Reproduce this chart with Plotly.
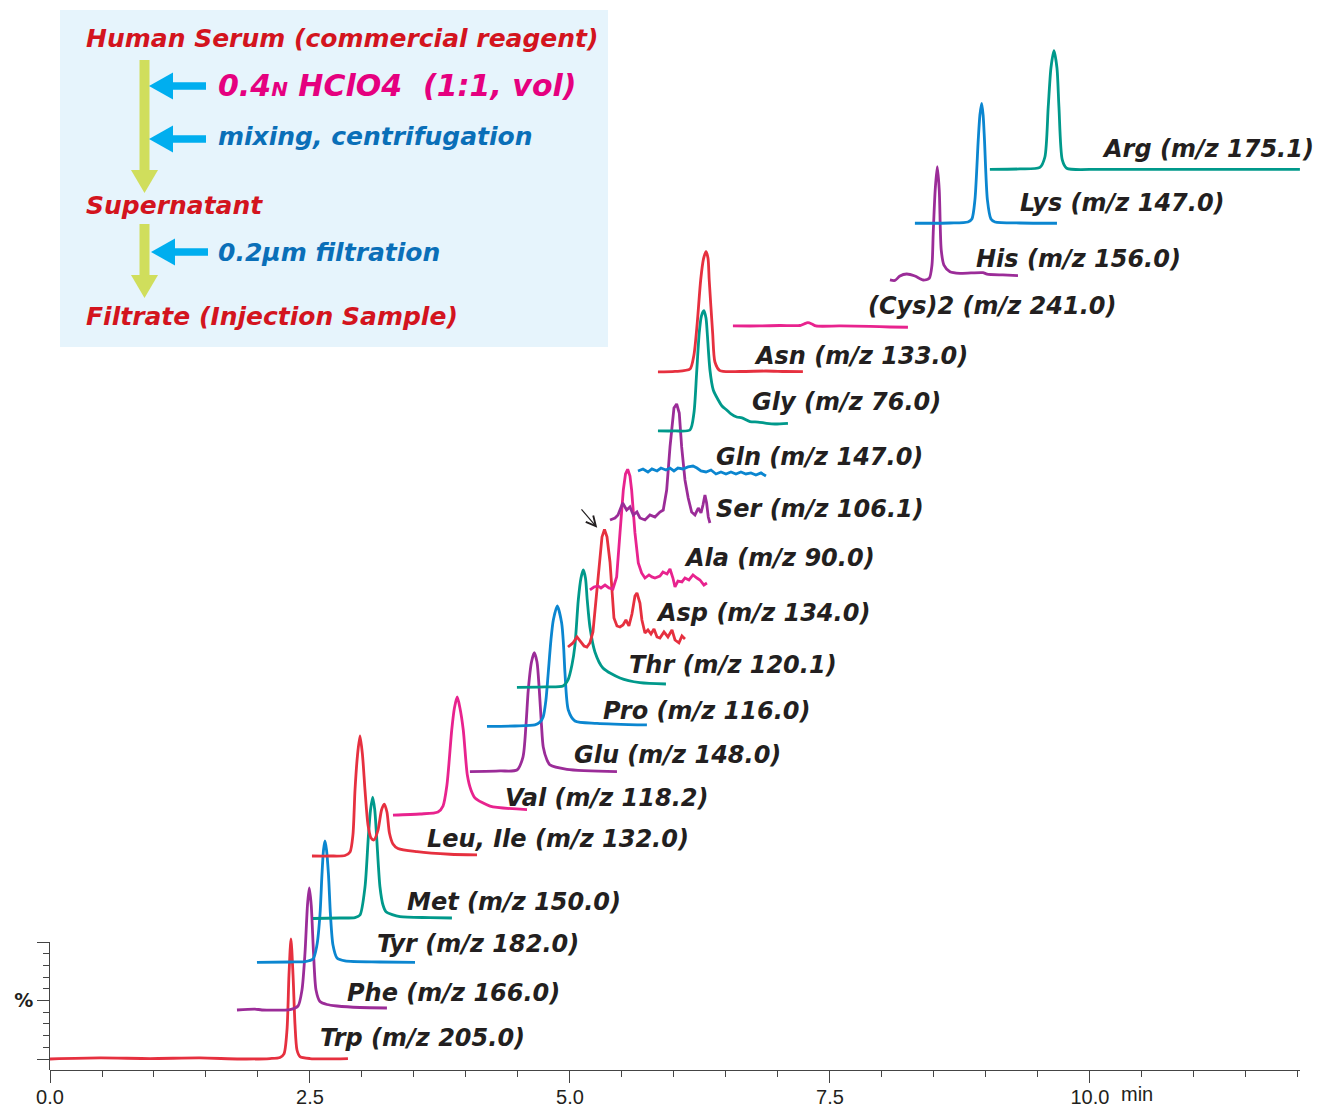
import plotly.graph_objects as go

# ---------------- data (retention time in min, response in %) ----------------
TRP_T = [0.000, 0.481, 0.962, 1.442, 1.827, 2.115, 2.212, 2.250, 2.279, 2.298, 2.317, 2.337, 2.356, 2.375, 2.404, 2.500, 2.865]
TRP_Y = [0.0, 0.9, 0.4, 0.9, 0.0, 0.4, 1.3, 4.3, 24.8, 71.8, 102.6, 71.8, 29.1, 7.7, 2.1, 0.4, 0.4]

PHE_T = [1.798, 1.971, 2.038, 2.308, 2.385, 2.423, 2.452, 2.476, 2.493, 2.512, 2.534, 2.558, 2.596, 2.663, 2.760, 2.981, 3.240]
PHE_Y = [41.9, 42.7, 41.9, 42.3, 45.3, 59.0, 90.6, 131.6, 146.2, 131.6, 90.6, 59.0, 49.1, 46.6, 45.3, 44.0, 43.6]

TYR_T = [1.990, 2.308, 2.452, 2.529, 2.567, 2.596, 2.615, 2.630, 2.644, 2.659, 2.678, 2.697, 2.721, 2.760, 2.837, 3.173, 3.510]
TYR_Y = [82.5, 82.9, 83.3, 85.5, 97.4, 123.1, 157.3, 178.6, 186.3, 178.6, 157.3, 123.1, 97.4, 86.3, 83.8, 82.9, 82.5]

MET_T = [2.529, 2.788, 2.933, 2.981, 3.029, 3.061, 3.082, 3.103, 3.123, 3.141, 3.173, 3.202, 3.231, 3.365, 3.654, 3.865]
MET_Y = [120.1, 120.5, 120.9, 123.1, 147.0, 189.7, 212.8, 223.9, 212.8, 189.7, 147.0, 131.6, 125.9, 121.6, 120.9, 120.5]

LEU_T = [2.519, 2.692, 2.837, 2.885, 2.913, 2.933, 2.957, 2.981, 3.005, 3.029, 3.058, 3.087, 3.115, 3.154,
         3.188, 3.214, 3.240, 3.264, 3.298, 3.346, 3.529, 3.846, 4.106]
LEU_Y = [173.5, 173.5, 173.9, 176.9, 191.5, 229.9, 259.8, 276.1, 259.8, 229.9, 200.0, 188.9, 187.2, 195.7,
         212.8, 217.9, 211.1, 193.2, 183.8, 179.9, 177.2, 175.0, 174.4]

VAL_T = [3.298, 3.558, 3.731, 3.779, 3.817, 3.863, 3.889, 3.916, 3.942, 3.974, 4.013, 4.048, 4.087, 4.231, 4.587]
VAL_Y = [208.5, 209.4, 211.1, 216.2, 234.2, 281.2, 300.0, 309.4, 300.0, 281.2, 242.7, 229.9, 223.1, 216.2, 213.2]

GLU_T = [4.038, 4.327, 4.490, 4.548, 4.577, 4.599, 4.630, 4.657, 4.683, 4.705, 4.726, 4.743, 4.779, 4.808, 4.971, 5.452]
GLU_Y = [245.6, 246.2, 247.0, 258.1, 285.5, 315.4, 339.3, 347.3, 339.3, 315.4, 285.5, 266.7, 255.6, 251.3, 247.6, 245.6]

PRO_T = [4.202, 4.471, 4.663, 4.712, 4.743, 4.769, 4.791, 4.817, 4.840, 4.878, 4.920, 4.938, 4.952, 4.984, 5.048, 5.260, 5.740]
PRO_Y = [284.2, 284.6, 285.5, 288.0, 292.6, 306.8, 329.9, 358.1, 375.2, 387.2, 372.6, 353.8, 329.9, 298.3, 288.9, 286.9, 285.5]

THR_T = [4.490, 4.760, 4.933, 4.981, 5.019, 5.048, 5.080, 5.106, 5.128, 5.149, 5.166, 5.192, 5.240, 5.317, 5.481, 5.673, 5.923]
THR_Y = [317.7, 318.0, 318.8, 324.0, 336.8, 353.8, 392.3, 411.1, 418.0, 411.1, 392.3, 369.2, 347.9, 334.2, 325.6, 321.6, 320.5]

ASP_T = [4.981, 5.029, 5.067, 5.096, 5.135, 5.163, 5.192, 5.221, 5.250, 5.279, 5.308, 5.332, 5.356, 5.385,
         5.404, 5.423, 5.452, 5.481, 5.510, 5.538, 5.567, 5.596, 5.625, 5.644, 5.673, 5.692, 5.721, 5.750,
         5.779, 5.808, 5.837, 5.865, 5.904, 5.942, 5.981, 6.010, 6.048, 6.077, 6.106]
ASP_Y = [352.1, 355.6, 360.7, 357.3, 353.0, 352.1, 355.6, 365.0, 392.3, 424.8, 446.2, 452.6, 446.2, 424.8,
         396.6, 376.9, 370.1, 369.2, 370.9, 375.2, 370.1, 380.3, 395.7, 398.3, 389.7, 375.2, 364.1, 366.7,
         363.2, 367.5, 360.7, 359.8, 365.0, 360.7, 366.7, 358.1, 355.6, 361.5, 359.0]

ALA_T = [5.192, 5.231, 5.269, 5.298, 5.337, 5.375, 5.413, 5.449, 5.481, 5.513, 5.534, 5.555, 5.577, 5.593,
         5.625, 5.657, 5.689, 5.721, 5.760, 5.788, 5.817, 5.865, 5.894, 5.933, 5.962, 5.990, 6.010, 6.038,
         6.077, 6.106, 6.144, 6.183, 6.221, 6.250, 6.288, 6.317]
ALA_Y = [400.9, 403.4, 404.3, 402.6, 405.1, 402.6, 401.7, 412.0, 449.6, 486.3, 500.0, 504.0, 498.3, 486.3,
         449.6, 423.9, 415.4, 411.1, 413.7, 412.0, 411.1, 412.8, 416.2, 414.5, 418.8, 411.1, 403.4, 408.5,
         407.7, 411.1, 409.4, 413.7, 411.1, 409.4, 405.1, 406.8]

SER_T = [5.385, 5.433, 5.462, 5.507, 5.545, 5.577, 5.609, 5.644, 5.673, 5.721, 5.769, 5.817, 5.865, 5.897,
         5.930, 5.962, 6.000, 6.026, 6.051, 6.074, 6.106, 6.137, 6.170, 6.202, 6.234, 6.260, 6.279, 6.298,
         6.314, 6.330, 6.346]
SER_Y = [460.7, 462.4, 465.0, 475.2, 469.2, 471.8, 465.0, 467.5, 462.4, 460.7, 465.0, 463.2, 467.5, 469.2,
         486.3, 523.1, 556.4, 559.8, 552.1, 523.1, 494.9, 479.5, 467.5, 465.0, 470.9, 466.7, 473.5, 482.1,
         475.2, 463.2, 458.1]

GLN_T = [5.654, 5.702, 5.750, 5.788, 5.837, 5.875, 5.923, 5.962, 6.000, 6.038, 6.087, 6.135, 6.183, 6.221,
         6.260, 6.308, 6.356, 6.404, 6.452, 6.500, 6.548, 6.596, 6.644, 6.692, 6.740, 6.788, 6.837, 6.885]
GLN_Y = [502.6, 504.3, 501.7, 504.3, 502.6, 505.1, 503.4, 505.1, 502.6, 505.1, 504.3, 506.0, 506.8, 505.1,
         502.6, 501.7, 503.4, 500.0, 501.7, 500.0, 501.7, 500.0, 501.7, 500.0, 500.9, 499.1, 500.9, 498.3]

GLY_T = [5.846, 6.010, 6.154, 6.192, 6.218, 6.243, 6.264, 6.288, 6.308, 6.320, 6.346, 6.378, 6.426, 6.462,
         6.507, 6.548, 6.603, 6.654, 6.731, 6.808, 6.891, 6.971, 7.096]
GLY_Y = [536.8, 536.8, 537.6, 552.1, 586.3, 620.5, 635.0, 639.6, 633.3, 620.5, 588.9, 571.8, 563.2, 558.1,
         554.7, 551.3, 548.7, 547.9, 544.7, 544.4, 543.3, 542.7, 543.3]

ASN_T = [5.846, 6.010, 6.154, 6.192, 6.224, 6.257, 6.284, 6.308, 6.327, 6.339, 6.372, 6.394, 6.442, 6.635, 6.885, 7.067, 7.240]
ASN_Y = [587.2, 587.6, 589.7, 601.7, 629.1, 665.8, 683.8, 690.0, 684.6, 665.8, 620.5, 595.7, 588.3, 587.6, 588.0, 587.6, 587.4]

CYS_T = [6.567, 6.827, 7.019, 7.212, 7.250, 7.288, 7.327, 7.365, 7.596, 7.885, 8.077, 8.250]
CYS_Y = [626.5, 626.5, 626.9, 626.9, 628.2, 629.3, 628.2, 626.5, 626.5, 626.1, 625.6, 625.4]

HIS_T = [8.077, 8.125, 8.173, 8.238, 8.317, 8.397, 8.455, 8.481, 8.493, 8.512, 8.532, 8.551, 8.570, 8.596,
         8.654, 8.750, 8.971, 9.010, 9.163, 9.308]
HIS_Y = [665.8, 665.4, 669.2, 670.9, 669.2, 665.8, 667.3, 678.6, 706.0, 742.7, 762.6, 742.7, 691.5, 678.6,
         672.9, 671.5, 672.1, 670.9, 670.1, 669.5]

LYS_T = [8.317, 8.654, 8.827, 8.865, 8.894, 8.926, 8.942, 8.959, 8.973, 8.986, 9.014, 9.048, 9.087, 9.327, 9.683]
LYS_Y = [714.3, 714.5, 715.4, 717.9, 734.2, 785.5, 806.8, 816.8, 806.8, 785.5, 734.2, 717.9, 715.4, 714.5, 714.3]

ARG_T = [9.038, 9.327, 9.519, 9.567, 9.599, 9.625, 9.654, 9.683, 9.702, 9.734, 9.776, 10.096, 11.058, 12.019]
ARG_Y = [760.4, 760.7, 762.0, 770.9, 813.7, 847.0, 861.8, 847.0, 813.7, 768.4, 761.3, 760.4, 760.4, 760.4]

# label text and label anchor (min, %)
LABELS = ["Trp (m/z 205.0)", "Phe (m/z 166.0)", "Tyr (m/z 182.0)", "Met (m/z 150.0)",
          "Leu, Ile (m/z 132.0)", "Val (m/z 118.2)", "Glu (m/z 148.0)", "Pro (m/z 116.0)",
          "Thr (m/z 120.1)", "Asp (m/z 134.0)", "Ala (m/z 90.0)", "Ser (m/z 106.1)",
          "Gln (m/z 147.0)", "Gly (m/z 76.0)", "Asn (m/z 133.0)", "(Cys)2 (m/z 241.0)",
          "His (m/z 156.0)", "Lys (m/z 147.0)", "Arg (m/z 175.1)"]
LABEL_T = [2.577, 2.837, 3.125, 3.413, 3.606, 4.356, 5.019, 5.298, 5.548, 5.808, 6.077, 6.385,
           6.385, 6.731, 6.750, 7.846, 8.885, 9.308, 10.095]
LABEL_Y = [17.9, 56.4, 98.3, 134.2, 188.0, 223.1, 259.8, 297.4, 336.8, 381.2, 428.2, 470.1,
           514.5, 561.5, 600.9, 643.6, 683.8, 731.6, 777.8]

X_TICKS = [0.0, 2.5, 5.0, 7.5, 10.0]
X_TICK_TEXT = ["0.0", "2.5", "5.0", "7.5", "10.0"]

# ---------------- styles ----------------
RED = "#E6303F"
PURPLE = "#9B2C98"
BLUE = "#0B86D0"
TEAL = "#00998B"
MAGENTA = "#E8238E"

SERIES = [
    (TRP_T, TRP_Y, RED, "spline"), (PHE_T, PHE_Y, PURPLE, "spline"),
    (TYR_T, TYR_Y, BLUE, "spline"), (MET_T, MET_Y, TEAL, "spline"),
    (LEU_T, LEU_Y, RED, "spline"), (VAL_T, VAL_Y, MAGENTA, "spline"),
    (GLU_T, GLU_Y, PURPLE, "spline"), (PRO_T, PRO_Y, BLUE, "spline"),
    (THR_T, THR_Y, TEAL, "spline"), (ASP_T, ASP_Y, RED, "linear"),
    (ALA_T, ALA_Y, MAGENTA, "linear"), (SER_T, SER_Y, PURPLE, "linear"),
    (GLN_T, GLN_Y, BLUE, "linear"), (GLY_T, GLY_Y, TEAL, "spline"),
    (ASN_T, ASN_Y, RED, "spline"), (CYS_T, CYS_Y, MAGENTA, "spline"),
    (HIS_T, HIS_Y, PURPLE, "spline"), (LYS_T, LYS_Y, BLUE, "spline"),
    (ARG_T, ARG_Y, TEAL, "spline"),
]

# reference picture geometry (pixels); everything is laid out as fractions of it,
# and the figure is sized to the browser window after load
W, H = 1319, 1108
AX_L, AX_R, AX_T, AX_B = 50, 1300, 20, 1070   # plot area of the chromatograms
PCT_TOP = 942                                  # top of the short % axis


def fx(x):
    return x / W


def fy(y):
    return 1 - y / H


fig = go.Figure()
for t, y, col, shape in SERIES:
    fig.add_trace(go.Scatter(x=t, y=y, mode="lines",
                             line=dict(color=col, width=2.8, shape=shape, smoothing=0.7),
                             showlegend=False, hoverinfo="skip"))
# dummy trace for the short % axis
fig.add_trace(go.Scatter(x=[None], y=[None], yaxis="y2", showlegend=False, hoverinfo="skip"))

LABEL_FONT = dict(family="DejaVu Sans", size=24, color="#231F20", weight="bold", style="italic")
for txt, t, y in zip(LABELS, LABEL_T, LABEL_Y):
    fig.add_annotation(x=t, y=y, text=txt, showarrow=False, xanchor="left", yanchor="middle",
                       font=LABEL_FONT)

# arrow pointing at the Asp peak
fig.add_annotation(x=5.262, y=454.0, ax=-17, ay=-20, text="", showarrow=True,
                   arrowhead=5, arrowsize=1.6, arrowwidth=1.2, arrowcolor="#231F20")

# ---------------- inset box (sample preparation) ----------------
shapes = []
shapes.append(dict(type="rect", xref="paper", yref="paper", x0=fx(60), x1=fx(608), y0=fy(347), y1=fy(10),
                   fillcolor="#E6F4FC", line=dict(width=0), layer="below"))
YG = "#D0DE5C"
CY = "#00AEEF"
for top, head in [(60, 170), (224, 275)]:
    shapes.append(dict(type="rect", xref="paper", yref="paper", x0=fx(139.5), x1=fx(149.5),
                       y0=fy(head + 2), y1=fy(top), fillcolor=YG, line=dict(width=0)))
    shapes.append(dict(type="path", xref="paper", yref="paper",
                       path=f"M {fx(131)} {fy(head)} L {fx(158)} {fy(head)} L {fx(144.5)} {fy(head + 23)} Z",
                       fillcolor=YG, line=dict(width=0)))
for yc, tip in [(86, 149), (139, 149), (252, 151)]:
    shapes.append(dict(type="rect", xref="paper", yref="paper", x0=fx(tip + 22), x1=fx(tip + 57),
                       y0=fy(yc + 3.8), y1=fy(yc - 3.8), fillcolor=CY, line=dict(width=0)))
    shapes.append(dict(type="path", xref="paper", yref="paper",
                       path=f"M {fx(tip)} {fy(yc)} L {fx(tip + 24)} {fy(yc - 13.5)} L {fx(tip + 24)} {fy(yc + 13.5)} Z",
                       fillcolor=CY, line=dict(width=0)))

BOX_RED = "#D3141E"
BOX_BLUE = "#0A6FB8"
BOX_MAG = "#E5007F"
box_texts = [
    ("Human Serum (commercial reagent)", 84, 38, BOX_RED, 25),
    ("0.4<span style='font-size:20px'>N</span> HClO4&nbsp;&nbsp;(1:1, vol)", 216, 86, BOX_MAG, 30),
    ("mixing, centrifugation", 216, 137, BOX_BLUE, 25),
    ("Supernatant", 84, 206, BOX_RED, 25),
    ("0.2µm filtration", 216, 252, BOX_BLUE, 25),
    ("Filtrate (Injection Sample)", 84, 316, BOX_RED, 25),
]
for txt, x, y, col, size in box_texts:
    fig.add_annotation(xref="paper", yref="paper", x=fx(x), y=fy(y), text=txt, showarrow=False,
                       xanchor="left", yanchor="middle",
                       font=dict(family="DejaVu Sans", size=size, color=col, weight="bold", style="italic"))

# "min" unit label
fig.add_annotation(xref="paper", yref="paper", x=fx(1119), y=fy(1094), text="min", showarrow=False,
                   xanchor="left", yanchor="middle",
                   font=dict(family="Liberation Sans", size=20, color="#231F20"))

AXC = "#444444"
fig.update_layout(
    # start small (page never overflows), then fill the window after load
    width=1100, height=900, margin=dict(l=0, r=0, t=0, b=0, pad=0),
    paper_bgcolor="white", plot_bgcolor="rgba(0,0,0,0)",
    shapes=shapes,
    xaxis=dict(range=[0, 12.02], domain=[fx(AX_L), fx(AX_R)], showgrid=False, zeroline=False,
               showline=True, linecolor=AXC, linewidth=1,
               ticks="outside", ticklen=12, tickcolor=AXC, tickwidth=1,
               tickmode="array", tickvals=X_TICKS, ticktext=X_TICK_TEXT,
               tickfont=dict(family="Liberation Sans", size=20, color="#231F20"),
               ticklabelstandoff=-3,
               minor=dict(dtick=0.5, tick0=0, ticks="outside", ticklen=6, tickcolor=AXC, tickwidth=1),
               anchor="y", automargin=False),
    yaxis=dict(range=[-9.4, 888], visible=False, domain=[fy(AX_B), fy(AX_T)], automargin=False),
    yaxis2=dict(range=[-9.4, 100], domain=[fy(AX_B), fy(PCT_TOP)], anchor="x", showgrid=False,
                zeroline=False, showline=True, linecolor=AXC, linewidth=1,
                ticks="outside", ticklen=12, tickcolor=AXC, tickwidth=1,
                tickmode="array", tickvals=[0, 50, 100], ticktext=["", "%", ""],
                tickfont=dict(family="DejaVu Sans", size=19, color="#231F20", weight="bold"),
                minor=dict(tickmode="array", tickvals=[10, 20, 30, 40, 60, 70, 80, 90],
                           ticks="outside", ticklen=6, tickcolor=AXC, tickwidth=1),
                automargin=False),
)

POST = ("var b=document.body, r=document.documentElement;"
        "b.style.margin='0px'; b.style.padding='0px'; b.style.overflow='hidden';"
        "b.style.fontSize='0px'; b.style.lineHeight='0px'; r.style.overflow='hidden';"
        "var gd=document.getElementById('{plot_id}'); gd.style.display='block';"
        "Plotly.relayout(gd,{width:window.innerWidth,height:window.innerHeight});")

fig.write_html("out.html", config={"displayModeBar": False}, post_script=POST)
